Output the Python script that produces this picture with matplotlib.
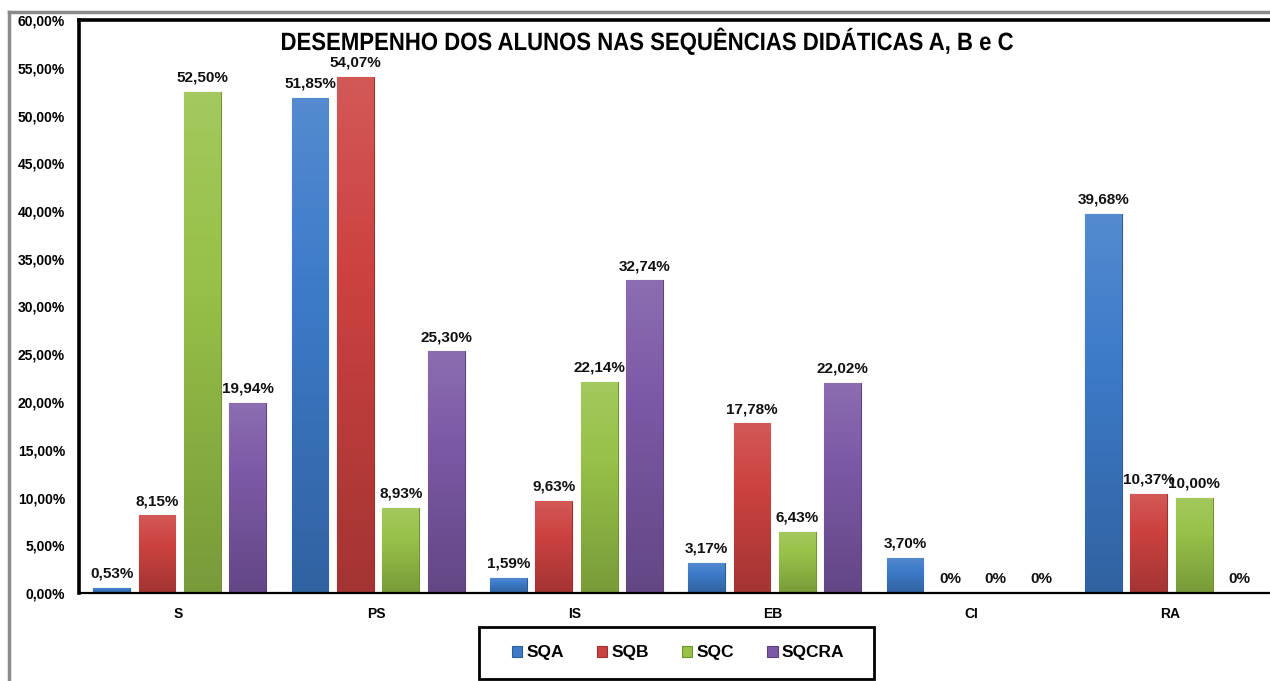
import numpy as np
import matplotlib
matplotlib.use("Agg")
import matplotlib.pyplot as plt  # noqa: E402
from matplotlib.colors import to_rgb  # noqa: E402
from matplotlib.lines import Line2D  # noqa: E402
from matplotlib.patches import PathPatch, Rectangle  # noqa: E402
from matplotlib.textpath import TextPath  # noqa: E402
from matplotlib.font_manager import FontProperties  # noqa: E402
from matplotlib.transforms import Affine2D  # noqa: E402

categories = ["S", "PS", "IS", "EB", "CI", "RA"]
series = ["SQA", "SQB", "SQC", "SQCRA"]
sqa = [0.53, 51.85, 1.59, 3.17, 3.70, 39.68]
sqb = [8.15, 54.07, 9.63, 17.78, 0.0, 10.37]
sqc = [52.50, 8.93, 22.14, 6.43, 0.0, 10.00]
sqcra = [19.94, 25.30, 32.74, 22.02, 0.0, 0.0]
yticks = [0, 5, 10, 15, 20, 25, 30, 35, 40, 45, 50, 55, 60]

colors = ["#3d7bc9", "#cc4240", "#97c148", "#7c59a6"]
title = "DESEMPENHO DOS ALUNOS NAS SEQUÊNCIAS DIDÁTICAS A, B e C"

plt.rcParams["font.family"] = ["Liberation Sans", "DejaVu Sans"]
W, H = 1270, 681


def pct(v):
    return f"{v:.2f}".replace(".", ",") + "%"


def lab(v):
    return "0%" if v == 0 else pct(v)


def shade(c, f):
    r = np.array(to_rgb(c))
    return np.clip(r * f if f < 1 else r + (1 - r) * (f - 1), 0, 1)


fig = plt.figure(figsize=(W / 100, H / 100), dpi=100)
ax = fig.add_axes([79 / W, 88 / H, 1190 / W, 573 / H])

step, bw = 0.229, 0.186
x = np.arange(len(categories))
data = [sqa, sqb, sqc, sqcra]
for k, (vals, col) in enumerate(zip(data, colors)):
    xs = x + (k - 1.5) * step + 0.008
    bars = ax.bar(xs, vals, bw, color=col, edgecolor=shade(col, 0.75),
                  linewidth=0.8, label=series[k], zorder=2)
    # vertical shading inside each bar
    grad = np.linspace(1.12, 0.8, 64)
    img = np.array([[shade(col, g) for _ in range(8)] for g in grad])
    for b, v in zip(bars, vals):
        if v > 0:
            im = ax.imshow(img, extent=[b.get_x(), b.get_x() + bw, 0, v],
                           aspect="auto", zorder=2.5, interpolation="bilinear")
            im.set_clip_path(b)
        ax.text(b.get_x() + bw / 2, v + 0.75, lab(v), ha="center", va="bottom",
                fontsize=11, fontweight="bold", color="#111", zorder=4)

ax.set_xlim(-0.5, len(categories) - 0.5)
ax.set_ylim(0, 60)
ax.set_yticks(yticks)
ax.set_yticklabels([pct(t) for t in yticks], fontsize=10, fontweight="bold")
ax.set_xticks(x)
ax.set_xticklabels(categories, fontsize=10, fontweight="bold")
ax.tick_params(axis="both", length=0)
ax.tick_params(axis="y", pad=10)
ax.tick_params(axis="x", pad=10)
for s in ["top", "left"]:
    ax.spines[s].set_linewidth(2.6)
    ax.spines[s].set_color("black")
ax.spines["bottom"].set_linewidth(1.6)
ax.spines["right"].set_visible(False)
ax.set_aspect("auto")

# condensed bold title: text outline squeezed horizontally
tp = TextPath((0, 0), title, size=25,
              prop=FontProperties(family="Liberation Sans", weight="bold"))
ext = tp.get_extents()
sx = 731 / ext.width
tr = (Affine2D().translate(-ext.x0, 0).scale(sx, 1).translate(282, H - 50)
      .scale(1 / W, 1 / H) + fig.transFigure)
fig.add_artist(PathPatch(tp, transform=tr, facecolor="black", edgecolor="none"))

leg = fig.legend(loc="center", bbox_to_anchor=(678 / W, 1 - 653 / H),
                 ncol=4, frameon=False, prop={"weight": "bold", "size": 12.5},
                 handlelength=0.6, handleheight=0.6, handletextpad=0.25,
                 columnspacing=1.9)
fig.add_artist(Rectangle((479 / W, 1 - 679 / H), 395 / W, 52 / H,
                         transform=fig.transFigure, fill=False,
                         edgecolor="black", lw=2))

# outer chart frame
fig.add_artist(Line2D([9 / W, 1], [1 - 12 / H] * 2, color="#8a8a8a", lw=2.5,
                      transform=fig.transFigure))
fig.add_artist(Line2D([9 / W] * 2, [0, 1 - 12 / H], color="#8a8a8a", lw=2.5,
                      transform=fig.transFigure))

fig.savefig("out.png", dpi=100)
